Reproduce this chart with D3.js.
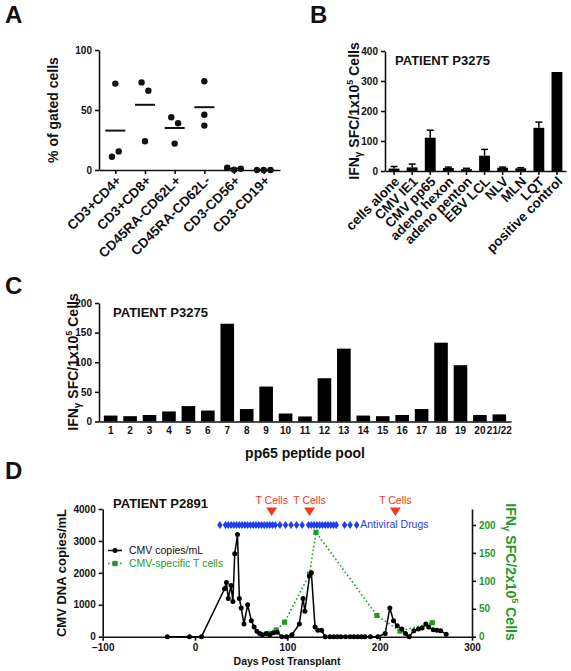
<!DOCTYPE html>
<html><head><meta charset="utf-8">
<script src="https://cdn.jsdelivr.net/npm/d3@7"></script>
<style>
body{margin:0;background:#fff}
svg{display:block}
text{font-family:"Liberation Sans",Arial,Helvetica,sans-serif}
</style></head><body>
<svg id="c" width="571" height="671"></svg>
<script>
// ---------- Panel A ----------
const aCategories = ["CD3+CD4+","CD3+CD8+","CD45RA-CD62L+","CD45RA-CD62L-","CD3-CD56+","CD3-CD19+"];
const aValues = [[11,72,15.5],[73,24,66],[44,22,39],[74,46,37],[2,0.3,1],[0,0,0]];
const aTicks = [0,50,100];
// ---------- Panel B ----------
const bCategories = ["cells alone","CMV IE1","CMV pp65","adeno hexon","adeno penton","EBV LCL","NLV","MLN","LQT","positive control"];
const bValues = [8,12,111,10,6,51,11,9,144,330];
const bErrors = [7,11,25,3,3,21,2,2,19,0];
const bTicks = [0,100,200,300,400];
// ---------- Panel C ----------
const cCategories = ["1","2","3","4","5","6","7","8","9","10","11","12","13","14","15","16","17","18","19","20","21/22"];
const cValues = [10,9,11,17,26,18.5,165,21,59,13.5,8.5,73,123,10,9,11,21,133,95,11,12];
const cTicks = [0,50,100,150,200];
// ---------- Panel D ----------
const dCmvDays   = [-30,-6,7,32,34,36,39,41,43,46,48,50,53,57,61,64,67,70,73,77,81,85,89,94,99,105,113,117,119,124,126,130,133,137,141,146,150,154,158,163,168,172,176,180,184,190,198,206,211,215,219,224,228,232,237,242,246,250,253,258,262,266,272];
const dCmvCopies = [0,0,0,1500,1700,1200,1600,1100,2600,3200,1200,900,400,1000,500,300,170,100,60,100,60,120,140,0,0,60,400,1200,800,1900,2000,300,200,200,0,0,0,0,0,0,0,0,0,0,0,0,0,100,900,500,340,240,100,0,190,240,270,400,300,220,200,190,80];
const dTcellDays = [81,88,97,124,131,197,222,257];
const dTcellSfc  = [6,12,26,112,187,38,10,25];
const dDrugDays  = [27,33,36,39,42,45,48,51,54,57,60,63,66,69,72,75,78,81,84,87,92,98,104,110,116,123,126,129,132,135,138,141,144,147,150,153,162,168,175];
const dDrugLevel = 3500;
const dInfusionDays = [83,124,217];
const dXTicks = [-100,0,100,200,300];
const dYTicks = [0,1000,2000,3000,4000];
const dY2Ticks = [0,50,100,150,200];

const svg = d3.select("#c");
const INK = "#111";
const RED = "#f0391f", BLUE = "#1e3ff0", GREEN = "#1f9a28";
const fmt = d3.format("d");

function styleAxis(g, w){
  g.selectAll("path,line").attr("stroke", INK).attr("stroke-width", w||1.6);
  g.selectAll("text").attr("fill", INK).attr("font-size", 10).attr("font-weight","bold");
  return g;
}
function rotLabels(g, fs){
  g.selectAll(".tick text").attr("text-anchor","end").attr("x",0).attr("y",0)
    .attr("dy","0.35em").attr("font-size", fs).attr("transform","translate(3,8) rotate(-45)");
}
function panelLetter(t, x, y){
  svg.append("text").attr("x",x).attr("y",y).attr("font-size",24).attr("font-weight","bold").attr("fill",INK).text(t);
}
function ifnTitle(g, denom, color){
  const t = g.append("text").attr("font-weight","bold").attr("font-size",14).attr("fill",color).attr("text-anchor","middle");
  t.append("tspan").text("IFN");
  t.append("tspan").attr("font-size",10).attr("dy",3).text("γ");
  t.append("tspan").attr("dy",-3).text(" SFC/"+denom+"x10");
  t.append("tspan").attr("font-size",9).attr("dy",-6).text("5");
  t.append("tspan").attr("dy",6).text(" Cells");
  return t;
}

// ================= Panel A =================
panelLetter("A", 5, 23);
{
  const x = d3.scalePoint().domain(aCategories).range([99,280]).padding(0.55);
  const y = d3.scaleLinear().domain([0,100]).range([170,50]);
  styleAxis(svg.append("g").attr("transform","translate(99,0)")
    .call(d3.axisLeft(y).tickValues(aTicks).tickFormat(fmt).tickSize(4).tickSizeOuter(0)));
  const gx = styleAxis(svg.append("g").attr("transform","translate(0,170)")
    .call(d3.axisBottom(x).tickSize(4).tickSizeOuter(0)));
  rotLabels(gx, 13.5);
  svg.append("text").attr("transform","translate(58,110) rotate(-90)").attr("text-anchor","middle")
    .attr("font-size",14).attr("font-weight","bold").attr("fill",INK).text("% of gated cells");
  const spread = 6.8, thr = 8;
  aCategories.forEach((c,i)=>{
    const vals = aValues[i];
    // cluster close values and spread them horizontally (scatter jitter)
    const used = vals.map(()=>false);
    const off = vals.map(()=>0);
    vals.forEach((v,j)=>{
      if(used[j]) return;
      const cl = [j]; used[j]=true;
      vals.forEach((w,k)=>{ if(!used[k] && cl.some(m=>Math.abs(vals[m]-w)<thr)){cl.push(k);used[k]=true;} });
      cl.sort((a,b)=>a-b);
      cl.forEach((m,n)=>{ off[m] = (n-(cl.length-1)/2)*spread; });
    });
    vals.forEach((v,j)=>{
      svg.append("circle").attr("cx",x(c)+off[j]).attr("cy",y(v)).attr("r",3.2).attr("fill",INK);
    });
    const m = d3.mean(vals);
    svg.append("line").attr("x1",x(c)-10).attr("x2",x(c)+10).attr("y1",y(m)).attr("y2",y(m))
      .attr("stroke",INK).attr("stroke-width",2);
  });
}

// ================= Panel B =================
panelLetter("B", 310, 23);
{
  const x = d3.scaleBand().domain(bCategories).range([385,566]).paddingInner(0.4).paddingOuter(0.2);
  const y = d3.scaleLinear().domain([0,400]).range([171,51]);
  const bw = x.bandwidth();
  bCategories.forEach((c,i)=>{
    svg.append("rect").attr("x",x(c)).attr("y",y(bValues[i])).attr("width",bw)
      .attr("height",y(0)-y(bValues[i])).attr("fill","#000");
    if(bErrors[i]>0){
      const cx = x(c)+bw/2, yt = y(bValues[i]+bErrors[i]);
      svg.append("line").attr("x1",cx).attr("x2",cx).attr("y1",y(bValues[i])).attr("y2",yt).attr("stroke","#000").attr("stroke-width",1.5);
      svg.append("line").attr("x1",cx-3.5).attr("x2",cx+3.5).attr("y1",yt).attr("y2",yt).attr("stroke","#000").attr("stroke-width",1.5);
    }
  });
  styleAxis(svg.append("g").attr("transform","translate(385,0)")
    .call(d3.axisLeft(y).tickValues(bTicks).tickFormat(fmt).tickSize(4).tickSizeOuter(0)));
  const gx = styleAxis(svg.append("g").attr("transform","translate(0,171)")
    .call(d3.axisBottom(x).tickSize(4).tickSizeOuter(0)));
  rotLabels(gx, 13.5);
  svg.append("text").attr("x",395).attr("y",65).attr("font-size",13).attr("font-weight","bold").attr("fill",INK).text("PATIENT P3275");
  ifnTitle(svg.append("g").attr("transform","translate(359,111) rotate(-90)"), "1", INK);
}

// ================= Panel C =================
panelLetter("C", 5, 294);
{
  const x = d3.scaleBand().domain(cCategories).range([99,511]).paddingInner(0.3).paddingOuter(0.25);
  const y = d3.scaleLinear().domain([0,200]).range([421.5,303]);
  svg.selectAll("rect.c").data(cValues).enter().append("rect")
    .attr("x",(d,i)=>x(cCategories[i])).attr("y",d=>y(d)).attr("width",x.bandwidth())
    .attr("height",d=>y(0)-y(d)).attr("fill","#000");
  styleAxis(svg.append("g").attr("transform","translate(99,0)")
    .call(d3.axisLeft(y).tickValues(cTicks).tickFormat(fmt).tickSize(4).tickSizeOuter(0)));
  const gx = styleAxis(svg.append("g").attr("transform","translate(0,421.5)")
    .call(d3.axisBottom(x).tickSize(0).tickPadding(5).tickSizeOuter(0)));
  gx.selectAll(".tick line").remove();
  svg.append("text").attr("x",113).attr("y",317).attr("font-size",13).attr("font-weight","bold").attr("fill",INK).text("PATIENT P3275");
  svg.append("text").attr("x",305).attr("y",458).attr("text-anchor","middle").attr("font-size",14).attr("font-weight","bold").attr("fill",INK).text("pp65 peptide pool");
  ifnTitle(svg.append("g").attr("transform","translate(78,362) rotate(-90)"), "1", INK);
}

// ================= Panel D =================
panelLetter("D", 5, 479);
{
  const x = d3.scaleLinear().domain([-100,300]).range([102.7,472]);
  const yL = d3.scaleLinear().domain([0,4000]).range([636.7,509]);
  const yR = d3.scaleLinear().domain([0,228.6]).range([636.7,509]);
  styleAxis(svg.append("g").attr("transform","translate(0,636.7)")
    .call(d3.axisBottom(x).tickValues(dXTicks).tickFormat(fmt).tickSize(4).tickSizeOuter(0)));
  styleAxis(svg.append("g").attr("transform","translate(102.7,0)")
    .call(d3.axisLeft(yL).tickValues(dYTicks).tickFormat(fmt).tickSize(4).tickSizeOuter(0)));
  const gr = styleAxis(svg.append("g").attr("transform","translate(472,0)")
    .call(d3.axisRight(yR).tickValues(dY2Ticks).tickFormat(fmt).tickSize(4).tickSizeOuter(0)));
  gr.selectAll("text").attr("fill",GREEN);

  // antiviral drugs
  const diamond = d3.symbol().type(d3.symbolDiamond).size(20);
  dDrugDays.forEach(d=>{
    svg.append("path").attr("d",diamond).attr("transform",`translate(${x(d)},${yL(dDrugLevel)}) scale(1.15,0.95)`).attr("fill",BLUE);
  });
  svg.append("text").attr("x",x(179)).attr("y",yL(dDrugLevel)+3.5).attr("font-size",10.5).attr("fill",BLUE).text("Antiviral Drugs");

  // T cell infusions
  dInfusionDays.forEach(d=>{
    const cx = x(d);
    svg.append("path").attr("d",`M${cx-5.5},${yL(4050)}L${cx+5.5},${yL(4050)}L${cx},${yL(3780)}Z`).attr("fill",RED);
    svg.append("text").attr("x",cx).attr("y",yL(4170)).attr("text-anchor","middle").attr("font-size",10.5).attr("fill",RED).text("T Cells");
  });

  // T cells (green, dotted)
  const tPts = dTcellDays.map((d,i)=>[x(d), yR(dTcellSfc[i])]);
  svg.append("path").attr("d",d3.line()(tPts)).attr("fill","none").attr("stroke",GREEN)
    .attr("stroke-width",1.6).attr("stroke-dasharray","1.6,2.4");
  tPts.forEach(p=>svg.append("rect").attr("x",p[0]-2.6).attr("y",p[1]-2.6).attr("width",5.2).attr("height",5.2).attr("fill",GREEN));

  // CMV copies (black)
  const cPts = dCmvDays.map((d,i)=>[x(d), yL(dCmvCopies[i])]);
  svg.append("path").attr("d",d3.line()(cPts)).attr("fill","none").attr("stroke","#000").attr("stroke-width",1.5);
  cPts.forEach(p=>svg.append("circle").attr("cx",p[0]).attr("cy",p[1]).attr("r",2.5).attr("fill","#000"));

  // legend
  svg.append("line").attr("x1",108).attr("x2",122).attr("y1",550.5).attr("y2",550.5).attr("stroke","#000").attr("stroke-width",1.5);
  svg.append("circle").attr("cx",115).attr("cy",550.5).attr("r",2.5).attr("fill","#000");
  svg.append("text").attr("x",129).attr("y",554.3).attr("font-size",10.5).attr("fill",INK).text("CMV copies/mL");
  svg.append("line").attr("x1",108).attr("x2",122).attr("y1",563.5).attr("y2",563.5).attr("stroke",GREEN).attr("stroke-width",1.6).attr("stroke-dasharray","1.6,2.4");
  svg.append("rect").attr("x",112.4).attr("y",560.9).attr("width",5.2).attr("height",5.2).attr("fill",GREEN);
  svg.append("text").attr("x",129).attr("y",567.3).attr("font-size",10.5).attr("fill",GREEN).text("CMV-specific T cells");

  svg.append("text").attr("x",113).attr("y",508).attr("font-size",13).attr("font-weight","bold").attr("fill",INK).text("PATIENT P2891");
  svg.append("text").attr("x",287).attr("y",665).attr("text-anchor","middle").attr("font-size",10.5).attr("font-weight","bold").attr("fill",INK).text("Days Post Transplant");
  svg.append("text").attr("transform","translate(66,573) rotate(-90)").attr("text-anchor","middle")
    .attr("font-size",13).attr("font-weight","bold").attr("fill",INK).text("CMV DNA copies/mL");
  ifnTitle(svg.append("g").attr("transform","translate(506,572) rotate(90)"), "2", GREEN);
}
</script>
</body></html>
